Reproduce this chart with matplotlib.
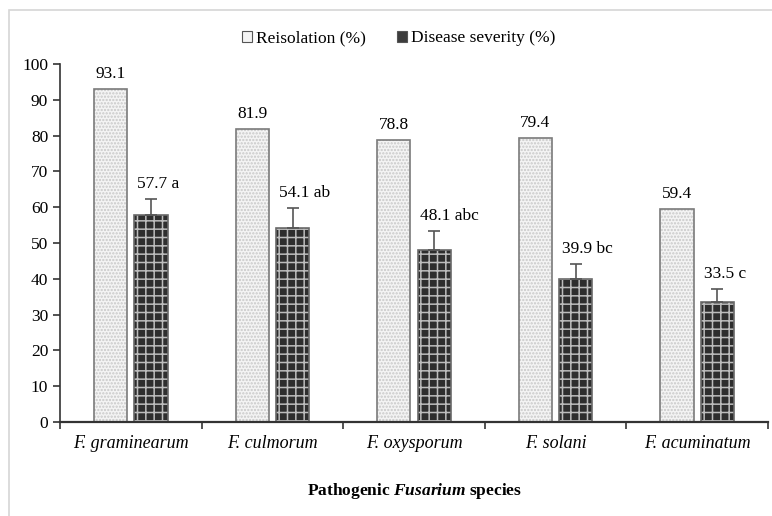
import matplotlib.pyplot as plt
import matplotlib.patches as mpatches
import numpy as np

plt.rcParams['font.family'] = ['Liberation Serif', 'DejaVu Serif']
plt.rcParams['mathtext.fontset'] = 'custom'
plt.rcParams['mathtext.rm'] = 'Liberation Serif'
plt.rcParams['mathtext.it'] = 'Liberation Serif:italic'
plt.rcParams['mathtext.bf'] = 'Liberation Serif:bold'
plt.rcParams['mathtext.bfit'] = 'Liberation Serif:italic:bold'
plt.rcParams['hatch.linewidth'] = 1.1

species = ['F. graminearum', 'F. culmorum', 'F. oxysporum', 'F. solani', 'F. acuminatum']
reisolation = [93.1, 81.9, 78.8, 79.4, 59.4]
severity = [57.7, 54.1, 48.1, 39.9, 33.5]
severity_err = [4.6, 5.7, 5.2, 4.2, 3.7]
letters = ['a', 'ab', 'abc', 'bc', 'c']

fig = plt.figure(figsize=(7.72, 5.16), dpi=100)
ax = fig.add_axes([60 / 772, 94 / 516, 708 / 772, 358 / 516])

x = np.arange(len(species))
w = 0.235
off = 0.143

# light dotted bars
ax.bar(x - off, reisolation, w, color='#f4f4f4', edgecolor='#c8c8c8', hatch='.....', lw=0)
ax.bar(x - off, reisolation, w, color='none', edgecolor='#7a7a7a', lw=1.2)
# dark checkered bars
ax.bar(x + off, severity, w, color='#2e2e2e', edgecolor='#bdbdbd', hatch='++', lw=0)
ax.bar(x + off, severity, w, color='none', edgecolor='#6a6a6a', lw=1.2)
ax.errorbar(x + off, severity, yerr=[[0] * 5, severity_err], fmt='none',
            ecolor='#555555', elinewidth=1.2, capsize=4, capthick=1.2)

for i in range(len(species)):
    ax.annotate('%.1f' % reisolation[i], (x[i] - off, reisolation[i]),
                xytext=(0, 5), textcoords='offset points',
                ha='center', va='bottom', fontsize=12.5)
    ax.annotate('%.1f %s' % (severity[i], letters[i]),
                (x[i] + off, severity[i] + severity_err[i]),
                xytext=(-10, 5), textcoords='offset points',
                ha='left', va='bottom', fontsize=12.5)

ax.set_xlim(-0.5, 4.5)
ax.set_ylim(0, 100)
ax.set_yticks(range(0, 101, 10))
ax.set_xticks(x)
ax.set_xticklabels(species, fontstyle='italic', fontsize=13)
ax.set_xticks(np.arange(-0.5, 5, 1), minor=True)
ax.tick_params(axis='x', which='major', length=0, pad=9)
ax.tick_params(axis='x', which='minor', length=5, width=1.2, direction='out', color='#333333')
ax.tick_params(axis='y', length=5, width=1.2, labelsize=12.5, color='#333333')
for s in ['top', 'right']:
    ax.spines[s].set_visible(False)
ax.spines['left'].set_linewidth(1.2)
ax.spines['left'].set_color('#333333')
ax.spines['bottom'].set_linewidth(1.6)
ax.spines['bottom'].set_color('#333333')

ax.set_xlabel(r'Pathogenic $\mathbfit{Fusarium}$ species', fontweight='bold',
              fontsize=12.5, labelpad=21)

h1 = mpatches.Patch(facecolor='#f4f4f4', edgecolor='#555555', lw=0.8)
h2 = mpatches.Patch(facecolor='#3c3c3c', edgecolor='#555555', lw=0.8)
fig.legend([h1, h2], ['Reisolation (%)', 'Disease severity (%)'],
           loc='center', bbox_to_anchor=(0.516, 0.926), ncol=2, frameon=False,
           fontsize=12.5, handlelength=0.6, handleheight=0.6, handletextpad=0.2,
           columnspacing=1.8)

# light frame around the chart
fig.patches.append(mpatches.Rectangle((9 / 772, -0.02), 1.0, (516 - 10) / 516 + 0.02,
                                      transform=fig.transFigure, fill=False,
                                      edgecolor='#d6d6d6', lw=1.2))

fig.savefig('out.png', dpi=100)
